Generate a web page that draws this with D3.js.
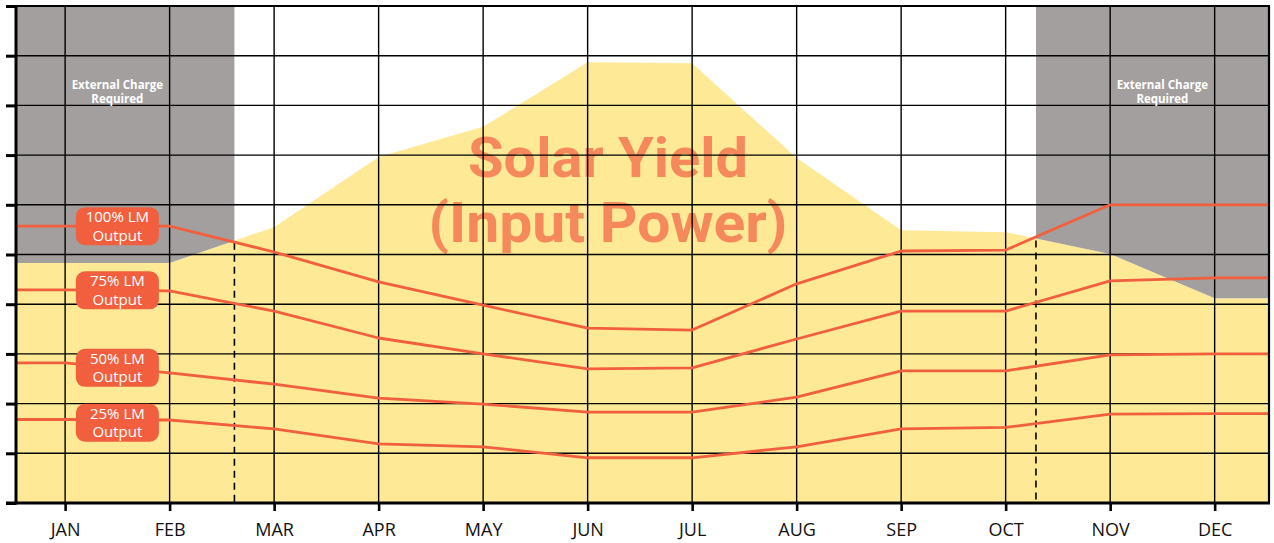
<!DOCTYPE html>
<html><head><meta charset="utf-8">
<script src="https://cdn.jsdelivr.net/npm/d3@7"></script>
<style>html,body{margin:0;padding:0;background:#fff;}svg{display:block;}</style>
</head><body><svg id="c" width="1274" height="543"></svg>
<script>
const months = ["JAN","FEB","MAR","APR","MAY","JUN","JUL","AUG","SEP","OCT","NOV","DEC"];
const solarYield = [4.83, 4.83, 5.55, 6.96, 7.57, 8.87, 8.85, 6.94, 5.49, 5.45, 5.01, 4.12];
const lm100 = [5.57, 5.57, 5.05, 4.45, 3.98, 3.52, 3.48, 4.41, 5.07, 5.09, 6.00, 6.00];
const lm75  = [4.29, 4.27, 3.86, 3.32, 3.00, 2.70, 2.72, 3.30, 3.86, 3.86, 4.47, 4.53];
const lm50  = [2.82, 2.62, 2.39, 2.11, 1.99, 1.83, 1.83, 2.13, 2.66, 2.66, 2.98, 3.00];
const lm25  = [1.68, 1.67, 1.49, 1.19, 1.13, 0.91, 0.91, 1.13, 1.49, 1.52, 1.79, 1.80];
const seriesNames = ["100% LM", "75% LM", "50% LM", "25% LM"];
const chargeCutoffs = [1.62, 9.29];
const yTicks = [0,1,2,3,4,5,6,7,8,9,10];

const svg = d3.select("#c");
const X0 = 16, X1 = 1269, Y0 = 503, Y1 = 6;
const xMin = -0.47, xMax = 11.52;
const x = d3.scaleLinear().domain([xMin, xMax]).range([X0, X1]);
const y = d3.scaleLinear().domain([0, 10]).range([Y0, Y1]);

const YELLOW = "#fde996", GRAY = "#a39f9e", RED = "#f15f3f", TITLE = "#f6895b";
const FONT = "'Open Sans', sans-serif";

function withEdges(vals){
  const pts = vals.map((v,i)=>({x:i, v}));
  return [{x:xMin, v:vals[0]}, ...pts, {x:xMax, v:vals[vals.length-1]}];
}

// solar area
const solarPts = withEdges(solarYield);
svg.append("path").datum(solarPts)
  .attr("fill", YELLOW)
  .attr("d", d3.area().x(d=>x(d.x)).y0(y(0)).y1(d=>y(d.v)));

// gray "external charge" regions
const defs = svg.append("defs");
defs.append("clipPath").attr("id","gl").append("rect")
  .attr("x", x(xMin)).attr("y", y(10)).attr("width", x(chargeCutoffs[0]) - x(xMin)).attr("height", y(0)-y(10));
defs.append("clipPath").attr("id","gr").append("rect")
  .attr("x", x(chargeCutoffs[1])).attr("y", y(10)).attr("width", x(xMax) - x(chargeCutoffs[1])).attr("height", y(0)-y(10));
const grayArea = d3.area().x(d=>x(d.x)).y0(y(10)).y1(d=>y(d.v));
["gl","gr"].forEach(id=>{
  svg.append("path").datum(solarPts).attr("fill", GRAY)
    .attr("clip-path", `url(#${id})`).attr("d", grayArea);
});

// title
[["Solar Yield", 177, 280], ["(Input Power)", 242, 359]].forEach(([txt, by, w])=>{
  svg.append("text").attr("x", 608).attr("y", by).attr("text-anchor","middle")
    .attr("font-family", "Roboto, sans-serif").attr("font-weight", 700).attr("font-size", 55)
    .attr("textLength", w).attr("lengthAdjust", "spacingAndGlyphs")
    .attr("fill", TITLE).text(txt);
});

// grid
const grid = svg.append("g").attr("stroke", "#000").attr("stroke-width", 1.4);
yTicks.filter(t=>t>0 && t<10).forEach(t=>{
  grid.append("line").attr("x1", X0).attr("x2", X1).attr("y1", y(t)).attr("y2", y(t));
});
months.forEach((m,i)=>{
  grid.append("line").attr("x1", x(i)).attr("x2", x(i)).attr("y1", Y1).attr("y2", Y0);
});

// external charge text
const ext = [(0+1)/2, (10+11)/2];
ext.forEach(cx=>{
  const t = svg.append("text").attr("text-anchor","middle").attr("font-family", FONT)
    .attr("font-weight", 700).attr("font-size", 11.5).attr("fill", "#fff");
  t.append("tspan").attr("x", x(cx)).attr("y", 89).text("External Charge");
  t.append("tspan").attr("x", x(cx)).attr("y", 103).text("Required");
});

// dashed cutoff lines
const interp = (xv)=>{
  const i = Math.floor(xv), f = xv - i;
  return solarYield[i]*(1-f) + solarYield[i+1]*f;
};
chargeCutoffs.forEach(c=>{
  svg.append("line").attr("x1", x(c)).attr("x2", x(c))
    .attr("y1", y(interp(c))+2).attr("y2", Y0)
    .attr("stroke", "#000").attr("stroke-width", 1.6).attr("stroke-dasharray", "7,5");
});

// LM lines
const allSeries = [lm100, lm75, lm50, lm25];
const line = d3.line().x(d=>x(d.x)).y(d=>y(d.v));
allSeries.forEach(s=>{
  svg.append("path").datum(withEdges(s)).attr("fill","none")
    .attr("stroke", RED).attr("stroke-width", 2.8).attr("stroke-linejoin","round").attr("d", line);
});

// labels
allSeries.forEach((s,k)=>{
  const cy = y((s[0]+s[1])/2) + (k===3 ? 3 : 0);
  const cx = x(0.5);
  svg.append("rect").attr("x", cx-41.5).attr("y", cy-19).attr("width", 83).attr("height", 38)
    .attr("rx", 9).attr("fill", RED);
  const t = svg.append("text").attr("text-anchor","middle").attr("font-family", FONT)
    .attr("font-size", 15).attr("fill", "#fff");
  t.append("tspan").attr("x", cx).attr("y", cy-4).text(seriesNames[k]);
  t.append("tspan").attr("x", cx).attr("y", cy+14.5).text("Output");
});

// borders
svg.append("line").attr("x1", X0).attr("x2", X1+1).attr("y1", Y1).attr("y2", Y1).attr("stroke","#000").attr("stroke-width",2.2);
svg.append("line").attr("x1", X1).attr("x2", X1).attr("y1", Y1).attr("y2", Y0).attr("stroke","#000").attr("stroke-width",2.2);

// axes
const yAxis = svg.append("g").attr("transform", `translate(${X0},0)`)
  .call(d3.axisLeft(y).tickValues(yTicks).tickSize(10).tickFormat(""));
yAxis.select(".domain").attr("stroke-width", 3).attr("d", `M0,${Y1-1}V${Y0+1.5}`);
yAxis.selectAll(".tick line").attr("stroke-width", 3);

const xAxis = svg.append("g").attr("transform", `translate(0,${Y0})`)
  .call(d3.axisBottom(x).tickValues(d3.range(months.length)).tickSize(8).tickPadding(12)
    .tickFormat(i=>months[i]));
xAxis.select(".domain").attr("stroke-width", 3).attr("d", `M${X0-10},0H${X1+1}`);
xAxis.selectAll(".tick line").attr("stroke-width", 2.6);
xAxis.selectAll(".tick text").attr("font-family", FONT).attr("font-size", 18).attr("fill", "#111");
</script></body></html>
